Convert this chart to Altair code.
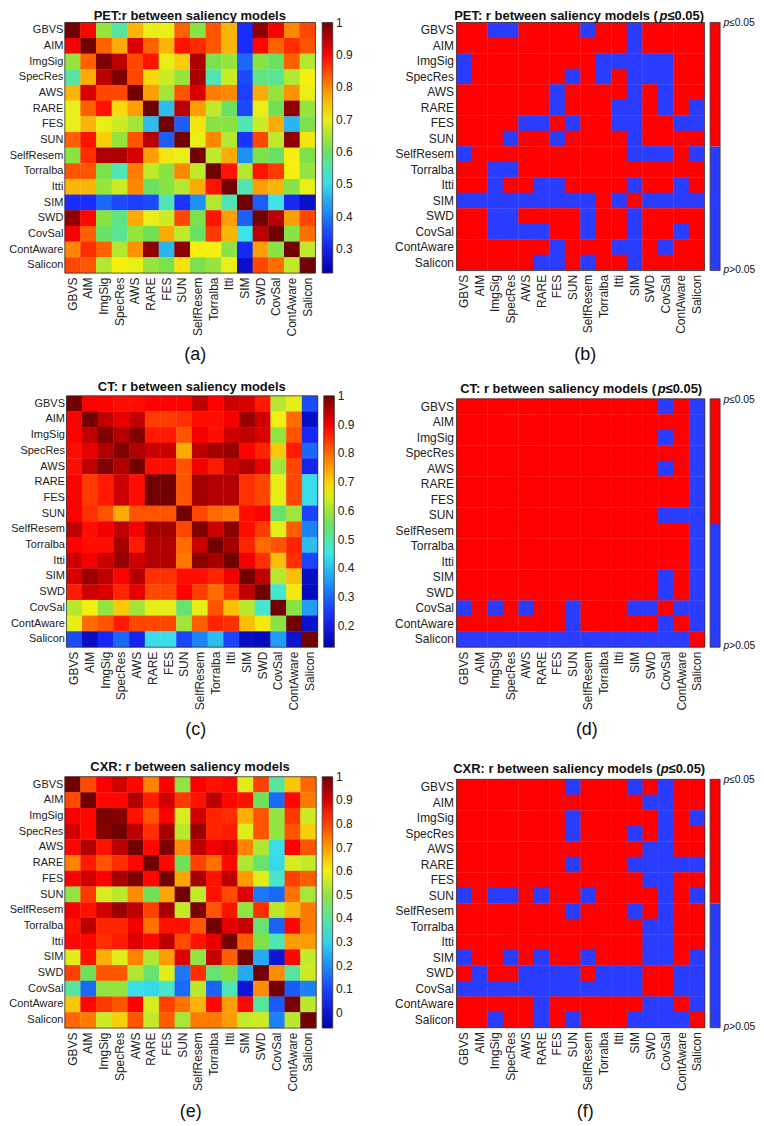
import altair as alt
import pandas as pd

FONT = "Liberation Sans"
models = ["GBVS", "AIM", "ImgSig", "SpecRes", "AWS", "RARE", "FES", "SUN", "SelfResem",
          "Torralba", "Itti", "SIM", "SWD", "CovSal", "ContAware", "Salicon"]

pet_r = [
    [1.00, .90, .64, .56, .76, .70, .70, .83, .63, .84, .76, .32, .98, .91, .80, .85],
    [.91, 1.00, .83, .77, .93, .83, .76, .89, .87, .84, .76, .32, .90, .83, .87, .84],
    [.64, .83, .99, .95, .85, .89, .70, .74, .96, .62, .64, .38, .63, .60, .83, .66],
    [.56, .77, .95, .99, .85, .73, .68, .64, .96, .55, .68, .35, .58, .57, .66, .71],
    [.76, .93, .85, .85, 1.00, .78, .65, .84, .93, .81, .80, .34, .77, .64, .79, .70],
    [.70, .83, .89, .73, .78, 1.00, .47, .95, .78, .67, .60, .35, .70, .61, .98, .64],
    [.70, .76, .70, .68, .65, .47, 1.00, .37, .72, .63, .63, .55, .68, .77, .46, .62],
    [.83, .89, .74, .64, .84, .95, .37, 1.00, .70, .80, .66, .33, .85, .67, .98, .72],
    [.63, .87, .96, .96, .93, .78, .72, .70, 1.00, .67, .77, .42, .62, .60, .71, .62],
    [.84, .84, .62, .55, .81, .67, .63, .80, .67, 1.00, .89, .66, .89, .86, .71, .64],
    [.76, .76, .64, .68, .80, .60, .63, .66, .77, .89, 1.00, .55, .78, .76, .63, .70],
    [.32, .32, .38, .35, .34, .35, .55, .33, .42, .66, .55, 1.00, .37, .51, .31, .26],
    [.98, .90, .63, .58, .77, .70, .68, .85, .62, .89, .78, .37, 1.00, .95, .78, .85],
    [.91, .83, .60, .57, .64, .61, .77, .67, .60, .86, .76, .51, .95, 1.00, .63, .82],
    [.80, .87, .83, .66, .79, .98, .46, .98, .71, .71, .63, .31, .78, .63, 1.00, .67],
    [.85, .84, .66, .71, .70, .64, .62, .72, .62, .64, .70, .26, .85, .82, .67, 1.00],
]
ct_r = [
    [1.00, .89, .89, .88, .88, .89, .89, .89, .94, .89, .93, .92, .87, .62, .66, .27],
    [.89, 1.00, .94, .91, .94, .84, .84, .85, .88, .88, .90, .97, .93, .67, .80, .16],
    [.89, .94, .99, .95, .99, .87, .87, .82, .90, .88, .93, .94, .92, .59, .82, .22],
    [.88, .91, .95, .99, .95, .93, .93, .74, .94, .96, .97, .89, .86, .71, .87, .30],
    [.88, .94, .99, .95, 1.00, .88, .88, .82, .90, .87, .93, .95, .91, .60, .83, .21],
    [.89, .84, .87, .93, .88, 1.00, 1.00, .82, .96, .95, .95, .85, .83, .66, .83, .44],
    [.89, .84, .87, .93, .88, 1.00, 1.00, .82, .96, .95, .95, .85, .83, .66, .83, .44],
    [.89, .85, .82, .74, .82, .82, .82, 1.00, .83, .80, .79, .88, .89, .54, .60, .26],
    [.94, .88, .90, .94, .90, .96, .96, .83, .99, .93, .98, .88, .84, .66, .81, .33],
    [.89, .88, .88, .96, .87, .95, .95, .80, .93, 1.00, .96, .86, .80, .82, .86, .40],
    [.93, .90, .93, .97, .93, .95, .95, .79, .98, .96, 1.00, .90, .85, .72, .85, .26],
    [.92, .97, .94, .89, .95, .85, .85, .88, .88, .86, .90, 1.00, .94, .62, .72, .16],
    [.87, .93, .92, .86, .91, .83, .83, .89, .84, .80, .85, .94, 1.00, .47, .68, .15],
    [.62, .67, .59, .71, .60, .66, .66, .54, .66, .82, .72, .62, .47, 1.00, .58, .36],
    [.66, .80, .82, .87, .83, .83, .83, .60, .81, .86, .85, .72, .68, .58, 1.00, .17],
    [.27, .16, .22, .30, .21, .44, .44, .26, .33, .40, .26, .16, .15, .36, .17, 1.00],
]
cxr_r = [
    [1.00, .79, .87, .91, .86, .73, .87, .50, .87, .85, .86, .58, .80, .40, .65, .76],
    [.79, 1.00, .86, .86, .94, .84, .91, .81, .85, .93, .86, .85, .46, .15, .86, .74],
    [.87, .86, .99, .98, .85, .78, .87, .57, .91, .83, .82, .68, .78, .50, .81, .56],
    [.91, .86, .98, 1.00, .93, .82, .95, .54, .96, .83, .84, .58, .78, .50, .78, .64],
    [.86, .94, .85, .93, 1.00, .86, .99, .72, .93, .88, .90, .73, .53, .32, .87, .78],
    [.73, .84, .78, .82, .86, 1.00, .86, .46, .80, .75, .86, .53, .44, .31, .57, .55],
    [.87, .91, .87, .95, .99, .86, 1.00, .69, .95, .85, .93, .70, .58, .36, .80, .77],
    [.50, .81, .57, .54, .72, .46, .69, 1.00, .55, .85, .79, .90, .17, .15, .75, .52],
    [.87, .85, .91, .96, .93, .80, .95, .55, .99, .78, .85, .50, .82, .54, .67, .74],
    [.85, .93, .83, .83, .88, .75, .85, .85, .78, 1.00, .89, .92, .44, .14, .86, .74],
    [.86, .86, .82, .84, .90, .86, .93, .79, .85, .89, 1.00, .77, .48, .38, .70, .70],
    [.58, .85, .68, .58, .73, .53, .70, .90, .50, .92, .77, 1.00, .24, .00, .86, .55],
    [.80, .46, .78, .78, .53, .44, .58, .17, .82, .44, .48, .24, 1.00, .72, .40, .56],
    [.40, .15, .50, .50, .32, .31, .36, .15, .54, .14, .38, .00, .72, 1.00, .13, .18],
    [.65, .86, .81, .78, .87, .57, .80, .75, .67, .86, .70, .86, .40, .13, .99, .54],
    [.76, .74, .56, .64, .78, .55, .77, .52, .74, .74, .70, .55, .56, .18, .54, 1.00],
]
# columns of each row with p>0.05
pet_blue = [[2, 3, 8, 11], [11], [0, 9, 10, 11, 12, 13], [0, 7, 9, 11, 12, 13], [6, 11, 13],
            [6, 10, 11, 13, 15], [4, 5, 7, 10, 11, 14, 15], [3, 6, 11], [0, 11, 12, 13, 15],
            [2, 3], [2, 5, 6, 11, 14], [0, 1, 2, 3, 4, 5, 6, 7, 8, 10, 12, 13, 14, 15],
            [2, 3, 8, 11], [2, 3, 4, 5, 8, 11, 14], [6, 10, 11, 13], [5, 6, 8, 11]]
ct_blue = [[13, 15], [15], [13, 15], [15], [13, 15], [15], [15], [13, 14, 15], [15], [15], [15],
           [13, 15], [13, 15], [0, 2, 4, 7, 11, 12, 14, 15], [7, 13, 15],
           [0, 1, 2, 3, 4, 5, 6, 7, 8, 9, 10, 11, 12, 13, 14]]
cxr_blue = [[7, 11, 13], [12, 13], [7, 13, 15], [7, 11, 13], [12, 13], [7, 11, 12, 13, 14, 15],
            [12, 13], [0, 2, 3, 5, 8, 13, 15], [7, 11, 13], [12, 13], [12, 13],
            [0, 3, 5, 8, 12, 13, 15], [1, 4, 5, 6, 7, 9, 10, 11, 14, 15],
            [0, 1, 2, 3, 4, 5, 6, 7, 8, 9, 10, 11, 14, 15], [5, 12, 13, 15],
            [2, 5, 7, 11, 12, 13, 14]]

JET = ["#0000a8", "#1a2cff", "#1c90f4", "#3ee8e8", "#72e050", "#f5f010", "#ff8000", "#ff0000", "#700000"]
JET_T = [0, .125, .25, .375, .5, .625, .75, .875, 1]
SIG = "p≤0.05"
NOT = "p>0.05"
RED = "#ff0000"
BLUE = "#2a3cff"
FRAME = "#3a3030"
one = pd.DataFrame({"k": [0]})


def long_r(mat):
    return pd.DataFrame([{"row": models[i], "col": models[j], "r": mat[i][j]}
                         for i in range(16) for j in range(16)])


def long_p(blue):
    return pd.DataFrame([{"row": models[i], "col": models[j], "sig": NOT if j in blue[i] else SIG}
                         for i in range(16) for j in range(16)])


def text(t, x, y, size, align="left", weight="normal", style="normal", baseline="alphabetic"):
    return alt.Chart(one).mark_text(text=t, font=FONT, fontSize=size, align=align, fontWeight=weight,
                                    fontStyle=style, baseline=baseline, color="#111").encode(
        x=alt.value(x), y=alt.value(y))


def xy(dx, dy, size, pad):
    return dict(
        x=alt.X("col:N", sort=models, title=None,
                scale=alt.Scale(domain=models, range=[dx, dx + size], padding=0),
                axis=alt.Axis(labelAngle=270, domain=False, ticks=False, grid=False, labelFont=FONT,
                              labelFontSize=12, labelColor="#222", labelPadding=4, labelOverlap=False)),
        y=alt.Y("row:N", sort=models, title=None,
                scale=alt.Scale(domain=models, range=[dy, dy + size], padding=0),
                axis=alt.Axis(domain=False, ticks=False, grid=False, labelFont=FONT,
                              labelFontSize=11 if pad < 2.5 else 12, labelColor="#222",
                              labelPadding=pad, labelOverlap=False)),
    )


def frame(x0, x1, y0, y1):
    return alt.Chart(one).mark_rect(fill="white", fillOpacity=0, stroke=FRAME, strokeWidth=0.8).encode(
        x=alt.value(x0), x2=alt.value(x1), y=alt.value(y0), y2=alt.value(y1))


def r_panel(mat, lo, ticks, title, title_x, title_y, caption, cap_x, cap_y, dx, dy, bar_x, size=252):
    hi = 1.0005
    dom = [lo + t * (hi - lo) for t in JET_T]
    scale = alt.Scale(domain=dom, range=JET, interpolate="rgb")
    cell = size / 16 + 0.35
    heat = alt.Chart(long_r(mat)).mark_rect(width=cell, height=cell).encode(
        color=alt.Color("r:Q", scale=scale,
                        legend=alt.Legend(orient="none", legendX=bar_x, legendY=dy, title=None,
                                          direction="vertical", type="gradient",
                                          gradientLength=size, gradientThickness=10.6,
                                          gradientStrokeColor=FRAME, gradientStrokeWidth=0.8,
                                          values=ticks, format="~g", labelFont=FONT, labelFontSize=12,
                                          labelColor="#222", labelOffset=3.4)),
        **xy(dx, dy, size, 2 - dx))
    return alt.layer(heat, frame(dx, dx + size, dy, dy + size),
                     text(title, title_x, title_y, 13, align="center", weight="bold"),
                     text(caption, cap_x, cap_y, 18, align="center", baseline="middle")
                     ).properties(width=size + dx, height=size + dy)


def p_panel(blue, head, tail, prefix_w, title_x, title_y, caption, cap_x, cap_y, dy, size=249):
    scale = alt.Scale(domain=[SIG, NOT], range=[RED, BLUE])
    color = alt.Color("sig:N", scale=scale, legend=None)
    cell = size / 16 + 0.35
    heat = alt.Chart(long_p(blue)).mark_rect(width=cell, height=cell).encode(
        color=color, **xy(0, dy, size, 3))
    key = alt.Chart(pd.DataFrame({"lo": [0.5, 0.0], "hi": [1.0, 0.5], "sig": [SIG, NOT]})).mark_rect().encode(
        x=alt.value(254.3), x2=alt.value(264.3),
        y=alt.Y("lo:Q", scale=alt.Scale(domain=[0, 1], range=[dy + size, dy]), axis=None),
        y2="hi:Q", color=color)
    return alt.layer(
        heat, key, frame(0, size, dy, dy + size), frame(254.3, 264.3, dy, dy + size),
        text(head, title_x, title_y, 13, weight="bold"),
        text("p", title_x + prefix_w, title_y, 13, weight="bold", style="italic"),
        text(tail, title_x + prefix_w + 7.9, title_y, 13, weight="bold"),
        text("p", 267.7, dy + 0.7, 10.3, style="italic", baseline="middle"),
        text("≤0.05", 273.4, dy + 0.7, 10.3, baseline="middle"),
        text("p", 267.7, dy + size - 0.7, 10.3, style="italic", baseline="middle"),
        text(">0.05", 273.4, dy + size - 0.7, 10.3, baseline="middle"),
        text(caption, cap_x, cap_y, 18, align="center", baseline="middle"),
    ).resolve_scale(y="independent").properties(width=size, height=size + dy)


a = r_panel(pet_r, 0.225, [.3, .4, .5, .6, .7, .8, .9, 1], "PET:r between saliency models",
            125.3, -2.1, "(a)", 130.8, 333.6, 0, 0, 258, size=251.3)
b = p_panel(pet_blue, "PET: r between saliency models (", "≤0.05)", 205.9, -2.3, -2.1,
            "(b)", 129, 333.6, 0, size=248.6)
c = r_panel(ct_r, 0.125, [.2, .3, .4, .5, .6, .7, .8, .9, 1], "CT: r between saliency models",
            127.3, -5.3, "(c)", 131.3, 334.7, 1.6, 0, 259.6)
d = p_panel(ct_blue, "CT: r between saliency models (", "≤0.05)", 198, 3.7, -3,
            "(d)", 130.7, 334.7, 3)
e = r_panel(cxr_r, -0.065, [0, .1, .2, .3, .4, .5, .6, .7, .8, .9, 1], "CXR: r between saliency models",
            125.5, 1.8, "(e)", 126.3, 343.5, 0, 7.5, 258)
f = p_panel(cxr_blue, "CXR: r between saliency models (", "≤0.05)", 208, -3.3, 3.5,
            "(f)", 129, 343.5, 10.1)

chart = alt.concat(a, b, c, d, e, f, columns=2, spacing={"row": 114.4, "column": 138.7},
                   bounds="flush", align="all").properties(
    padding={"left": 0, "top": 0, "right": 0, "bottom": 0}
).configure_view(stroke=None)

chart.save("out.html", embed_options={"renderer": "svg", "actions": False})
